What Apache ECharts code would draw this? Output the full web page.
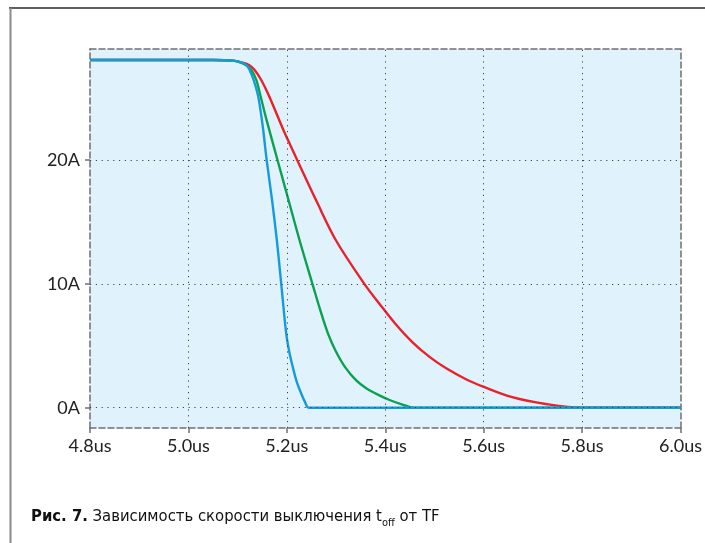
<!DOCTYPE html>
<html>
<head>
<meta charset="utf-8">
<script src="https://cdn.jsdelivr.net/npm/echarts@6/dist/echarts.min.js"></script>
<style>
html,body{margin:0;padding:0;background:#fff;}
#c{width:705px;height:543px;}
</style>
</head>
<body>
<div id="c"></div>
<script>
// ---- data (time in us, current in A) ----
const xTicks = [4.8, 5.0, 5.2, 5.4, 5.6, 5.8, 6.0];
const yTicks = [0, 10, 20];

const redT = [4.80, 5.05, 5.09, 5.11, 5.123, 5.1345, 5.148, 5.163, 5.193, 5.207, 5.221, 5.26, 5.300, 5.3575, 5.388, 5.42, 5.455, 5.49, 5.523, 5.564, 5.599, 5.658, 5.726, 5.80, 6.0];
const redI = [28.07, 28.07, 28.02, 27.85, 27.67, 27.27, 26.46, 25.24, 22.42, 21.2, 20.0, 16.7, 13.5, 10.0, 8.4, 6.8, 5.3, 4.1, 3.2, 2.3, 1.7, 0.85, 0.30, 0, 0];

const greenT = [4.80, 5.05, 5.09, 5.105, 5.118, 5.1278, 5.1379, 5.146, 5.159, 5.181, 5.2035, 5.226, 5.252, 5.267, 5.2835, 5.299, 5.318, 5.341, 5.362, 5.388, 5.410, 5.435, 5.458, 6.0];
const greenI = [28.07, 28.07, 28.02, 27.88, 27.62, 27.27, 26.46, 25.24, 23.2, 20.0, 16.75, 13.5, 10.0, 8.0, 6.0, 4.6, 3.3, 2.2, 1.55, 1.0, 0.6, 0.25, 0, 0];

const blueT = [4.80, 5.05, 5.09, 5.105, 5.1177, 5.1243, 5.1325, 5.1412, 5.1465, 5.152, 5.159, 5.170, 5.1797, 5.1886, 5.1987, 5.205, 5.212, 5.220, 5.229, 5.237, 5.2446, 6.0];
const blueI = [28.07, 28.07, 28.02, 27.9, 27.67, 27.27, 26.46, 25.24, 24.0, 22.42, 20.0, 16.75, 13.5, 10.0, 6.0, 4.5, 3.3, 2.1, 1.16, 0.45, 0, 0];

const caption = { bold: 'Рис. 7.', text: ' Зависимость скорости выключения ', t: 't', sub: 'off', tail: ' от TF' };

// ---- build ----
const pairs = (t, v) => t.map((x, i) => [x, v[i]]);
const FONT = 'Lato';
const CAP_FONT = "'DejaVu Sans Condensed', 'Roboto Condensed', 'Liberation Sans Narrow', 'Noto Sans'";
const dashed = { color: '#6f6f6f', width: 1.5, type: [6, 3] };
const dotted = { color: '#444', width: 1, type: [1.2, 4.6] };

const chart = echarts.init(document.getElementById('c'), null, { renderer: 'canvas' });

const lineSeries = (name, t, v, color) => ({
  name, type: 'line', data: pairs(t, v), showSymbol: false, symbol: 'none',
  smooth: 0.35,
  lineStyle: { color, width: 2.4 }, silent: true, animation: false
});

chart.setOption({
  animation: false,
  backgroundColor: '#fff',
  grid: { left: 90, right: 23, top: 49, bottom: 115, show: true, backgroundColor: '#e0f2fc', borderWidth: 0 },
  xAxis: [{
    type: 'value', min: 4.8, max: 6.0, interval: 0.2,
    axisLine: { show: true, onZero: false, lineStyle: dashed },
    axisTick: { show: true, length: 5, lineStyle: dashed },
    axisLabel: { margin: 9, color: '#222', fontFamily: FONT, fontSize: 18,
      formatter: v => v.toFixed(1) + 'us' },
    splitLine: { show: false }
  }, {
    type: 'value', position: 'top', min: 4.8, max: 6.0, interval: 0.2,
    axisLine: { show: true, onZero: false, lineStyle: dashed },
    axisTick: { show: false }, axisLabel: { show: false }, splitLine: { show: false }
  }],
  yAxis: [{
    type: 'value', min: -1.64, max: 28.96,
    axisLine: { show: true, onZero: false, lineStyle: dashed },
    axisTick: { show: true, length: 5, lineStyle: dashed, customValues: yTicks },
    axisLabel: { margin: 10, color: '#222', fontFamily: FONT, fontSize: 18, customValues: yTicks,
      formatter: v => v + 'A' },
    splitLine: { show: false }
  }, {
    type: 'value', position: 'right', min: -1.64, max: 28.96,
    axisLine: { show: true, onZero: false, lineStyle: dashed },
    axisTick: { show: false }, axisLabel: { show: false }, splitLine: { show: false }
  }],
  graphic: [
    { type: 'line', shape: { x1: 9, y1: 8, x2: 705, y2: 8 }, style: { stroke: '#2a2a2a', lineWidth: 1.5 }, z: 10 },
    { type: 'line', shape: { x1: 10.5, y1: 8, x2: 10.5, y2: 543 }, style: { stroke: '#8a8a8a', lineWidth: 2 }, z: 10 }
  ],
  title: {
    left: 26, top: 500,
    text: '{b|' + caption.bold + '}{n|' + caption.text + caption.t + '}{s|' + caption.sub + '}{n|' + caption.tail + '}',
    textStyle: {
      fontWeight: 'normal',
      rich: {
        b: { fontFamily: CAP_FONT, fontWeight: 'bold', fontSize: 16.5, color: '#111', lineHeight: 20, verticalAlign: 'bottom' },
        n: { fontFamily: CAP_FONT, fontWeight: 'normal', fontSize: 16.5, color: '#111', lineHeight: 20, verticalAlign: 'bottom' },
        s: { fontFamily: CAP_FONT, fontWeight: 'normal', fontSize: 11, color: '#111', lineHeight: 20, verticalAlign: 'bottom', padding: [0, 0, -4, 0] }
      }
    }
  },
  series: [
    {
      type: 'line', data: [], silent: true,
      markLine: {
        symbol: 'none', silent: true, label: { show: false },
        lineStyle: dotted,
        data: xTicks.slice(1, -1).map(v => ({ xAxis: v })).concat(yTicks.map(v => ({ yAxis: v })))
      }
    },
    lineSeries('red', redT, redI, '#e8212b'),
    lineSeries('green', greenT, greenI, '#0aa24e'),
    lineSeries('blue', blueT, blueI, '#159bdc')
  ]
});
</script>
</body>
</html>
